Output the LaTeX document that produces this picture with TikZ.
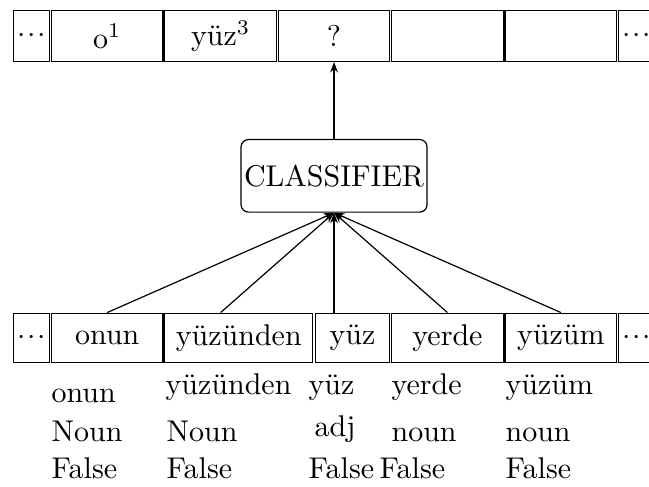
\documentclass[tikz,border=0pt]{standalone}
\usetikzlibrary{arrows.meta}
\newcommand{\mydots}{$\mathord{\cdot}\mkern1mu\mathord{\cdot}\mkern1mu\mathord{\cdot}$}
\begin{document}
\begin{tikzpicture}[x=0.33333pt,y=-0.33333pt,
  cell/.style={draw, line width=0.4pt, inner sep=0pt, minimum height=16.9pt},
  bcell/.style={draw, line width=0.4pt, inner sep=0pt, minimum height=16.5pt},
  wide/.style={minimum width=37.2pt},
  narrow/.style={minimum width=12pt},
  classbox/.style={draw, line width=0.4pt, rounded corners=2.5pt, minimum width=62pt, minimum height=24.2pt, inner sep=1pt},
  arr/.style={line width=0.4pt, -{Stealth[length=3.5pt,width=2.6pt]}},
  lbl/.style={anchor=base west, inner sep=0pt}]
\useasboundingbox (0,0) rectangle (649,487);
% top row
\node[cell,narrow] (t0) at (31.35,36) {\mydots};
\node[cell,wide] (t1) at (107.25,36) {o$^1$};
\node[cell,wide] (t2) at (220.65,36) {yüz$^3$};
\node[cell,wide] (t3) at (334.05,36) {?};
\node[cell,wide] (t4) at (447.45,36) {};
\node[cell,wide] (t5) at (560.85,36) {};
\node[cell,narrow] (t6) at (636.65,36) {\mydots};
% classifier
\node[classbox] (cls) at (334.05,175.85) {CLASSIFIER};
% bottom row
\node[bcell,narrow] (b0) at (31.35,337.9) {\mydots};
\node[bcell,wide] (b1) at (107.25,337.9) {onun};
\node[bcell,minimum width=49.28pt] (b2) at (238.8,337.9) {yüzünden};
\node[bcell,minimum width=24.9pt] (b3) at (352.5,337.9) {yüz};
\node[bcell,wide] (b4) at (447.45,337.9) {yerde};
\node[bcell,wide] (b5) at (560.85,337.9) {yüzüm};
\node[bcell,narrow] (b6) at (636.65,337.9) {\mydots};
% arrow start points
\coordinate (s1) at (t1 |- b1.north);
\coordinate (s2) at (t2 |- b2.north);
\coordinate (s3) at (t3 |- b3.north);
\coordinate (s4) at (t4 |- b4.north);
\coordinate (s5) at (t5 |- b5.north);
\draw[arr] (s1) -- (cls.south);
\draw[arr] (s2) -- (cls.south);
\draw[arr] (s3) -- (cls.south);
\draw[arr] (s4) -- (cls.south);
\draw[arr] (s5) -- (cls.south);
\draw[arr] (cls.north) -- (t3.south);
% labels
\node[lbl] (l11) at (51,403) {onun};
\node[lbl] (l12) at (51,441.7) {Noun};
\node[lbl] (l13) at (51,478.3) {False};
\node[lbl] (l21) at (165,395) {yüzünden};
\node[lbl] (l22) at (166,441.7) {Noun};
\node[lbl] (l23) at (166,478.3) {False};
\node[lbl] (l31) at (308,395) {yüz};
\node[lbl] (l32) at (314,437) {adj};
\node[lbl] (l33) at (308,478.3) {False};
\node[lbl] (l41) at (391,395) {yerde};
\node[lbl] (l42) at (391,441.7) {noun};
\node[lbl] (l43) at (379,478.3) {False};
\node[lbl] (l51) at (505,395) {yüzüm};
\node[lbl] (l52) at (505,441.7) {noun};
\node[lbl] (l53) at (505,478.3) {False};
\end{tikzpicture}
\end{document}
